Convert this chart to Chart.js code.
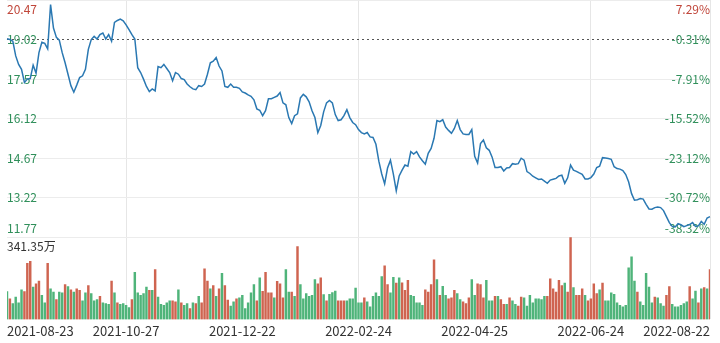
<!DOCTYPE html>
<html><head><meta charset="utf-8">
<script src="https://cdn.jsdelivr.net/npm/chart.js@4.4.1/dist/chart.umd.min.js"></script>
<style>html,body{margin:0;padding:0;background:#fff;}canvas{display:block;}</style>
</head><body>
<canvas id="c" width="720" height="343"></canvas>
<script>
// ---- data ----
const PRICE = [
19.05,19.02,18.96,18.42,18.11,17.93,17.45,17.57,17.59,18.08,
17.79,18.54,18.92,18.88,18.68,20.30,19.44,19.10,19.00,18.54,
18.17,17.75,17.33,17.09,17.35,17.63,17.69,17.93,18.66,19.02,
19.14,19.04,19.20,19.26,19.04,19.20,18.96,19.65,19.72,19.77,
19.71,19.56,19.38,19.20,19.04,17.99,17.81,17.57,17.30,17.11,
17.21,17.14,18.03,17.99,18.11,17.96,17.81,17.51,17.81,17.75,
17.59,17.55,17.39,17.29,17.21,17.18,17.33,17.30,17.39,17.75,
18.17,18.23,18.36,18.05,17.87,17.30,17.27,17.39,17.27,17.27,
17.23,17.10,17.06,16.99,16.94,16.81,16.48,16.43,16.23,16.41,
16.85,16.85,16.90,16.95,17.08,16.70,16.63,16.16,15.94,16.23,
16.30,16.88,17.01,16.92,16.74,16.41,16.16,15.61,15.87,16.37,
16.70,16.79,16.70,16.27,16.05,16.08,16.23,16.45,16.16,15.98,
15.90,15.72,15.61,15.56,15.61,15.45,15.43,15.18,14.56,14.09,
13.73,14.31,14.60,14.09,13.47,14.02,14.23,14.42,14.38,14.91,
14.82,14.91,14.72,14.58,14.45,14.85,15.03,15.40,16.05,16.01,
16.08,15.81,15.69,15.58,15.76,16.05,15.72,15.56,15.54,15.54,
15.72,14.74,14.49,15.21,15.34,15.05,14.96,14.71,14.33,14.33,
14.36,14.20,14.31,14.33,14.47,14.45,14.47,14.67,14.60,14.18,
14.11,14.01,13.95,13.89,13.91,13.83,13.75,13.87,13.90,13.93,
14.02,14.05,13.75,13.95,14.42,14.23,14.19,14.13,14.08,13.91,
13.91,13.96,14.09,14.33,14.38,14.69,14.68,14.66,14.63,14.36,
14.29,14.27,14.22,14.07,13.80,13.37,13.13,13.15,13.19,13.17,
12.98,12.81,12.80,12.86,12.88,12.86,12.75,12.53,12.31,12.17,
12.15,12.27,12.23,12.16,12.20,12.24,12.31,12.17,12.19,12.35,
12.25,12.48,12.53
];
// daily volume, 万
const VOLUME = [
116,86,66,93,69,123,116,233,241,134,
148,159,100,69,233,127,114,82,114,110,
145,137,123,114,127,121,77,110,141,107,
77,82,96,69,66,63,159,110,69,63,
66,59,49,82,196,110,100,107,134,121,
121,207,93,63,59,69,77,77,73,123,
69,59,66,45,69,66,96,69,210,159,
127,141,96,127,192,141,80,55,73,86,
90,100,45,69,110,145,77,173,117,196,
110,110,90,158,148,90,207,114,114,96,
303,145,86,107,96,100,166,148,173,103,
77,104,112,118,77,77,77,77,86,86,
130,69,69,90,73,52,96,110,96,178,
223,145,110,175,151,173,152,121,162,100,
96,69,69,59,123,114,145,248,166,100,
138,100,86,90,121,107,82,73,66,90,
166,100,148,145,90,162,77,77,96,96,
82,63,63,90,77,63,55,93,90,55,
100,69,86,86,82,96,96,169,127,114,
162,141,151,114,340,132,100,100,127,100,
77,86,148,107,123,151,77,77,110,104,
69,59,52,59,214,260,159,114,73,59,
192,134,69,93,90,66,55,100,137,63,
52,52,59,66,73,137,86,118,69,127,
132,127,207
];
// r = up day (red bar), g = down day (green bar); ten days per group
const VOL_DIR = [
'grggggrrrg','rrggrggrgg','rgrgrrggrg','ggrgggrgrg','gggrgggggr',
'grgggggrrg','rggrgrgrrr','grgrgrrggr','ggggggrgrr','rrgrrrggrg',
'rggggggrrg','rgggrrrggg','gggrgggggg','rrggrgrrrg','ggggrrrrgr',
'ggrrrggrrr','ggrrrgggrg','rrgrggrrgg','ggggggrrrr','rrgrrgrrrg',
'rrrrgrgggg','gggggggrgg','gggrgggrrg','gggggrggrg','rgr'
].join('').split('');
const CATEGORIES = PRICE.map((_, i) => i);
const TICK_INDEX = [0, 41, 81, 121, 161, 201, 242];
const TICK_DATES = ['2021-08-23','2021-10-27','2021-12-22','2022-02-24','2022-04-25','2022-06-24','2022-08-22'];
const GRID_INDEX = [41, 121, 201, 242];
const PRICE_TICKS = [20.47, 19.02, 17.57, 16.12, 14.67, 13.22, 11.77];
const PRICE_LABELS = ['20.47','19.02','17.57','16.12','14.67','13.22','11.77'];
const PCT_LABELS = ['7.29%','-0.31%','-7.91%','-15.52%','-23.12%','-30.72%','-38.32%'];
const REF_PRICE = 19.02;
const VOL_TICK = 341.35;
const VOL_LABEL = '341.35万';
</script>
<script>
const RED = '#c0463a', GREEN = '#2f8f5a';
const BAR_RED = '#cf6450', BAR_GREEN = '#4fb47a';
const FONT = "'Noto Sans CJK SC','Noto Sans',sans-serif";
const PRICE_FRAC = 240 / 323;           // share of plot height used by the price panel
const P_MAX = PRICE_TICKS[0];
const P_LOW = PRICE_TICKS[PRICE_TICKS.length - 1];
const P_MIN = P_LOW - (P_MAX - P_LOW) * (1 - PRICE_FRAC) / PRICE_FRAC;
const V_MAX = VOL_TICK / (1 - PRICE_FRAC);
const edge = (txt, i, n) => i === 0 ? ['', txt] : (i === n - 1 ? [txt, ''] : txt);
const noPad = s => { s.paddingTop = 0; s.paddingBottom = 0; };

new Chart(document.getElementById('c'), {
  type: 'bar',
  data: {
    labels: CATEGORIES,
    datasets: [
      { type: 'line', data: PRICE, yAxisID: 'y', borderColor: '#2a78b2', borderWidth: 1.5,
        pointRadius: 0, tension: 0, order: 0 },
      { type: 'bar', data: VOLUME, yAxisID: 'yVol', barThickness: 1.8,
        backgroundColor: VOL_DIR.map(d => d === 'r' ? BAR_RED : BAR_GREEN), order: 1 }
    ]
  },
  options: {
    responsive: false, animation: false, events: [],
    devicePixelRatio: 1,
    layout: { padding: { left: 7, right: 10, top: 0, bottom: 0 } },
    plugins: { legend: { display: false }, tooltip: { enabled: false } },
    scales: {
      x: {
        type: 'category', offset: false,
        afterBuildTicks: a => { a.ticks = TICK_INDEX.map(v => ({ value: v })); },
        grid: { offset: false, drawTicks: false,
          color: c => GRID_INDEX.includes(c.tick && c.tick.value) ? '#e6e6e6' : 'rgba(0,0,0,0)' },
        border: { display: false },
        ticks: { autoSkip: false, maxRotation: 0, align: 'inner', padding: 4, color: '#333',
          font: { family: FONT, size: 13 },
          callback: v => TICK_DATES[TICK_INDEX.indexOf(v)] }
      },
      y: {
        position: 'left', min: P_MIN, max: P_MAX, afterFit: noPad,
        afterBuildTicks: a => { a.ticks = PRICE_TICKS.map(v => ({ value: v })); },
        grid: { drawTicks: false, color: c => (c.tick && c.tick.value === REF_PRICE) ? 'rgba(0,0,0,0)' : '#ececec' },
        border: { display: false },
        ticks: { mirror: true, padding: 0, font: { family: FONT, size: 12, lineHeight: 1.5 },
          color: c => c.index === 0 ? RED : GREEN,
          callback: (v, i) => edge(PRICE_LABELS[i], i, PRICE_LABELS.length) }
      },
      yRef: {
        position: 'left', min: P_MIN, max: P_MAX, afterFit: noPad,
        afterBuildTicks: a => { a.ticks = [{ value: REF_PRICE }]; },
        grid: { drawTicks: false, color: '#555', lineWidth: 1 },
        border: { display: false, dash: [2, 3] },
        ticks: { display: false }
      },
      yR: {
        position: 'right', min: P_MIN, max: P_MAX, afterFit: noPad,
        afterBuildTicks: a => { a.ticks = PRICE_TICKS.map(v => ({ value: v })); },
        grid: { drawTicks: false, drawOnChartArea: false },
        border: { display: false },
        ticks: { mirror: true, padding: 0, font: { family: FONT, size: 12, lineHeight: 1.5 },
          color: c => c.index === 0 ? RED : GREEN,
          callback: (v, i) => edge(PCT_LABELS[i], i, PCT_LABELS.length) }
      },
      yVol: {
        position: 'left', min: 0, max: V_MAX, afterFit: noPad,
        afterBuildTicks: a => { a.ticks = [{ value: VOL_TICK }]; },
        grid: { drawTicks: false, drawOnChartArea: false },
        border: { display: false },
        ticks: { mirror: true, padding: 0, color: '#333', font: { family: FONT, size: 12, lineHeight: 1.5 },
          callback: () => ['', VOL_LABEL] }
      }
    }
  }
});
</script>
</body></html>
